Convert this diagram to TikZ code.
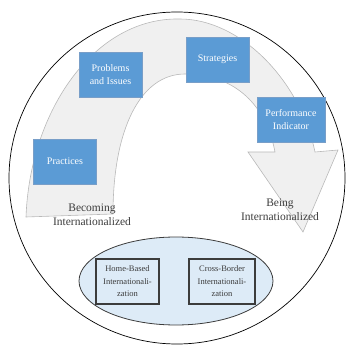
\documentclass[tikz,border=0pt]{standalone}
\usepackage{fontspec}
\setmainfont{Liberation Serif}
\usetikzlibrary{shapes.geometric}

\definecolor{stageblue}{RGB}{91,155,213}
\definecolor{stageedge}{RGB}{120,158,200}
\definecolor{bandgray}{RGB}{240,240,240}
\definecolor{bandedge}{RGB}{185,185,185}
\definecolor{baseblue}{RGB}{221,235,247}
\definecolor{labelgray}{RGB}{60,60,60}

\tikzset{
  stage/.style={draw=stageedge, fill=stageblue, text=white, line width=0.6pt,
    minimum width=63pt, minimum height=45pt, inner sep=1pt, align=center,
    font=\fontsize{10}{13}\selectfont},
  basebox/.style={draw=labelgray, fill=baseblue, line width=1.1pt, text=labelgray,
    minimum width=63pt, minimum height=45pt, inner sep=1pt, align=center,
    font=\fontsize{8.5}{12.5}\selectfont},
  phase/.style={text=labelgray, align=center, inner sep=0pt,
    font=\fontsize{11.5}{14}\selectfont}
}

\begin{document}
\begin{tikzpicture}[x=1pt, y=-1pt]
    \useasboundingbox (0,0) rectangle (346,345);

    % outer circle
    \draw [line width=0.7pt] (177,178) ellipse [x radius=168pt, y radius=166pt];

    % curved band that ends in an arrow head
    \draw [fill=bandgray, draw=bandedge, line width=0.6pt]
        (26,217) .. controls (30,110) and (95,17) .. (180,19)
        .. controls (240,19) and (300,80) .. (315,152)
        -- (338,150) -- (303,232) -- (248,152) -- (275,152)
        .. controls (265,100) and (230,74) .. (185,74)
        .. controls (140,74) and (113,130) .. (113,214) -- cycle;

    % stages along the band
    \node [stage] (practices) at (65,161.5) {Practices};
    \node [stage] (problems) at (110.5,74.5) {Problems\\and Issues};
    \node [stage] (strategies) at (217.5,59.5) {Strategies};
    \node [stage, minimum width=68pt] (performance) at (291,119.5) {Performance\\Indicator};

    \node [phase] (becoming) at (92,215) {Becoming\\Internationalized};
    \node [phase] (being) at (280,210) {Being\\Internationalized};

    % the two kinds of internationalization
    \node [ellipse, draw=labelgray, fill=baseblue, line width=0.8pt,
        minimum width=194pt, minimum height=88pt] (base) at (176,281) {};
    \node [basebox] (home) at (127.5,281.5) {Home-Based\\Internationali-\\zation};
    \node [basebox, minimum width=66pt] (cross) at (222,281.5) {Cross-Border\\Internationali-\\zation};
\end{tikzpicture}
\end{document}
